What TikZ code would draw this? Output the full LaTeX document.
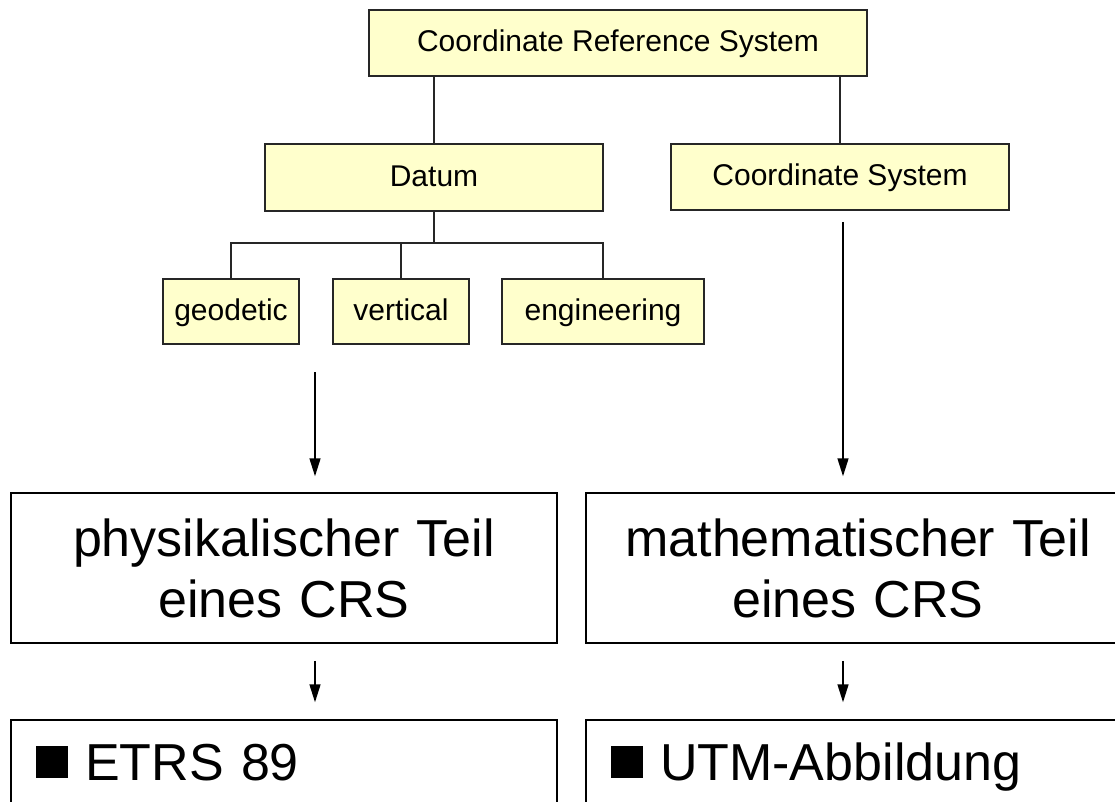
\documentclass[tikz,border=0pt]{standalone}
\usepackage{fontspec}
\setmainfont{Liberation Sans}
\usetikzlibrary{arrows.meta,positioning}
\definecolor{boxyellow}{RGB}{255,255,204}

\begin{document}
\begin{tikzpicture}
[x=1pt,y=-1pt,
box/.style={rectangle,draw=black!85,line width=2.5pt,fill=boxyellow,minimum height=66pt,inner sep=0pt,font=\fontsize{30}{36}\selectfont,text height=21pt,text depth=3pt},
part/.style={rectangle,draw=black,line width=1.5pt,minimum width=546pt,minimum height=150pt,inner sep=0pt,align=center,text width=520pt,font=\fontsize{52}{61}\selectfont},
item/.style={rectangle,draw=black,line width=1.5pt,minimum height=93pt,inner xsep=25pt,inner ysep=0pt,align=left,text height=38pt,text depth=11pt,font=\fontsize{52}{61}\selectfont},
link/.style={draw=black!85,line width=2pt},
flow/.style={-{Triangle[length=18pt,width=11pt]},line width=1.5pt}]
\useasboundingbox (0,0) rectangle (1115,802);
\node[box,minimum width=498pt] (crs) at (618,43) {Coordinate Reference System};
\node[box,minimum width=338pt,minimum height=67pt] (datum) at (434,177.5) {Datum};
\node[box,minimum width=338pt] (cs) at (840,177) {Coordinate System};
\node[box,minimum width=136pt,minimum height=65pt] (geodetic) at (231,311.5) {geodetic};
\node[box,minimum width=136pt,minimum height=65pt] (vertical) at (401,311.5) {vertical};
\node[box,minimum width=202pt,minimum height=65pt] (engineering) at (603,311.5) {engineering};
\coordinate (fork) at (434,243);
\draw[link] (datum.north) -- (datum.north |- crs.south);
\draw[link] (cs.north) -- (cs.north |- crs.south);
\draw[link] (datum.south) -- (fork);
\draw[link] (geodetic.north) |- (fork) -| (engineering.north);
\draw[link] (vertical.north) -- (vertical.north |- fork);
\node[part] (phys) at (284,568) {physikalischer Teil\\eines CRS};
\node[part,minimum width=544pt] (math) at (858,568) {mathematischer Teil\\eines CRS};
\node[item,text width=496pt] (etrs) at (284,766.5) {\rule[2pt]{32pt}{32pt}\hspace{17pt}ETRS 89};
\node[item,text width=494pt] (utm) at (858,766.5) {\rule[2pt]{32pt}{32pt}\hspace{17pt}UTM-Abbildung};
\coordinate (physin) at (315,372);
\coordinate (mathin) at (843,222);
\draw[flow,shorten >=16pt] (physin) -- (physin |- phys.north);
\draw[flow,shorten >=16pt] (mathin) -- (mathin |- math.north);
\draw[flow,shorten <=17pt,shorten >=17pt] (phys.south -| physin) -- (etrs.north -| physin);
\draw[flow,shorten <=17pt,shorten >=17pt] (math.south -| mathin) -- (utm.north -| mathin);
\end{tikzpicture}
\end{document}
